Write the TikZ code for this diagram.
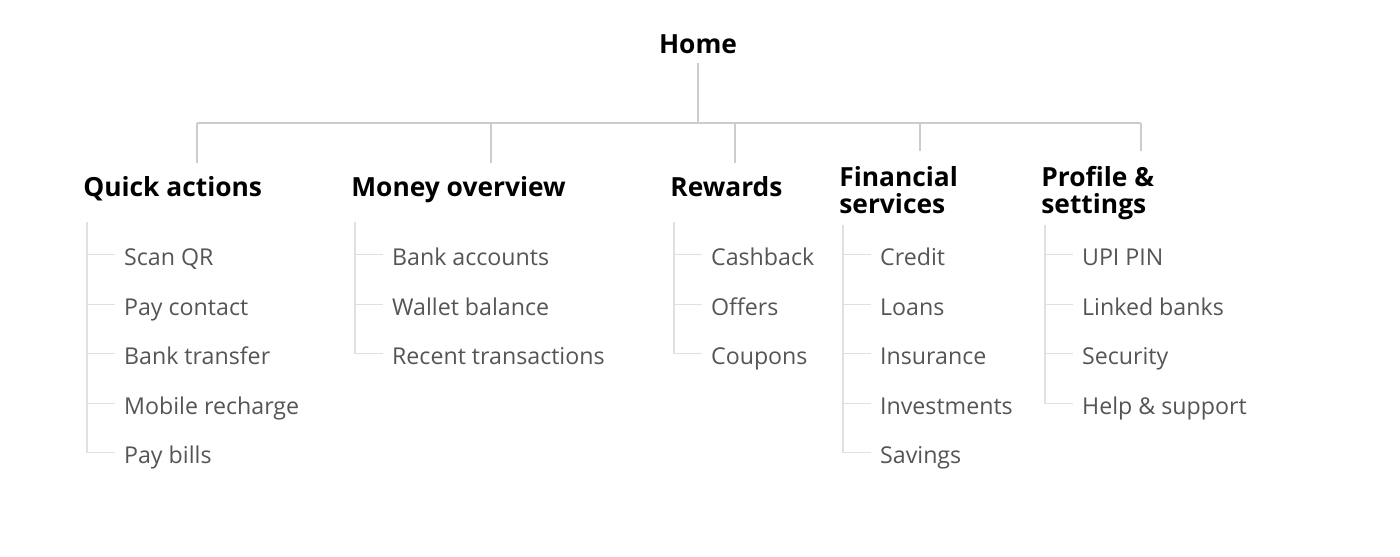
\documentclass[tikz,border=0pt]{standalone}
\usepackage{fontspec}
\setmainfont{Open Sans}
\usetikzlibrary{calc}
\definecolor{linkgray}{HTML}{CCCCCC}
\definecolor{twiggray}{HTML}{E0E0E0}
\definecolor{itemgray}{HTML}{555555}
\tikzset{
	head/.style={anchor=base west, inner sep=0pt, align=left, text=black, font=\fontsize{15}{15.6}\selectfont\bfseries},
	item/.style={anchor=base west, inner xsep=5pt, inner ysep=0pt, text height=12pt, text depth=0pt, text=itemgray, font=\fontsize{13.2}{15}\selectfont},
	link/.style={line width=0.6pt, color=linkgray},
	twig/.style={line width=0.6pt, color=twiggray}
}

\begin{document}
\begin{tikzpicture}[x=0.02cm, y=-0.02cm]
		%%%%% START %%%%%
		\useasboundingbox (0, 0) rectangle (1400, 556);
		
		\node[head, anchor=base, inner ysep=5.7pt, text depth=0pt] (home) at (698, 53) {Home};
		\coordinate (bar) at (698, 123);
		\draw[link] (home.south) -- (bar);
		
		\coordinate (qdrop) at (197, 163);
		\coordinate (mdrop) at (491, 163);
		\coordinate (rdrop) at (735, 163);
		\coordinate (fdrop) at (920, 151);
		\coordinate (pdrop) at (1141, 151);
		\draw[link] (qdrop |- bar) -- (pdrop |- bar);
		\draw[link] (qdrop |- bar) -- (qdrop);
		\draw[link] (mdrop |- bar) -- (mdrop);
		\draw[link] (rdrop |- bar) -- (rdrop);
		\draw[link] (fdrop |- bar) -- (fdrop);
		\draw[link] (pdrop |- bar) -- (pdrop);
		
		\node[head] (quick) at (83, 196) {Quick actions};
		\node[head] (money) at (351, 196) {Money overview};
		\node[head] (rewards) at (670, 196) {Rewards};
		\node[head] (finance) at (839, 213.5) {Financial\\services};
		\node[head] (profile) at (1041, 213.5) {Profile \&\\settings};
		
		% quick actions
		\coordinate (qtop) at (87, 222);
		\node[item] (scan) at (115, 265.5) {Scan QR};
		\node[item] (paycontact) at (115, 315) {Pay contact};
		\node[item] (transfer) at (115, 364.5) {Bank transfer};
		\node[item] (recharge) at (115, 414) {Mobile recharge};
		\node[item] (bills) at (115, 463.5) {Pay bills};
		\draw[twig] (qtop) -- (qtop |- bills.west) -- (bills.west);
		\draw[twig] (qtop |- scan.west) -- (scan.west);
		\draw[twig] (qtop |- paycontact.west) -- (paycontact.west);
		\draw[twig] (qtop |- transfer.west) -- (transfer.west);
		\draw[twig] (qtop |- recharge.west) -- (recharge.west);
		
		% money overview
		\coordinate (mtop) at (355, 222);
		\node[item] (accounts) at (383, 265.5) {Bank accounts};
		\node[item] (wallet) at (383, 315) {Wallet balance};
		\node[item] (recent) at (383, 364.5) {Recent transactions};
		\draw[twig] (mtop) -- (mtop |- recent.west) -- (recent.west);
		\draw[twig] (mtop |- accounts.west) -- (accounts.west);
		\draw[twig] (mtop |- wallet.west) -- (wallet.west);
		
		% rewards
		\coordinate (rtop) at (674, 222);
		\node[item] (cashback) at (702, 265.5) {Cashback};
		\node[item] (offers) at (702, 315) {Offers};
		\node[item] (coupons) at (702, 364.5) {Coupons};
		\draw[twig] (rtop) -- (rtop |- coupons.west) -- (coupons.west);
		\draw[twig] (rtop |- cashback.west) -- (cashback.west);
		\draw[twig] (rtop |- offers.west) -- (offers.west);
		
		% financial services
		\coordinate (ftop) at (843, 225);
		\node[item] (credit) at (871, 265.5) {Credit};
		\node[item] (loans) at (871, 315) {Loans};
		\node[item] (insurance) at (871, 364.5) {Insurance};
		\node[item] (invest) at (871, 414) {Investments};
		\node[item] (savings) at (871, 463.5) {Savings};
		\draw[twig] (ftop) -- (ftop |- savings.west) -- (savings.west);
		\draw[twig] (ftop |- credit.west) -- (credit.west);
		\draw[twig] (ftop |- loans.west) -- (loans.west);
		\draw[twig] (ftop |- insurance.west) -- (insurance.west);
		\draw[twig] (ftop |- invest.west) -- (invest.west);
		
		% profile & settings
		\coordinate (ptop) at (1045, 225);
		\node[item] (upi) at (1073, 265.5) {UPI PIN};
		\node[item] (linked) at (1073, 315) {Linked banks};
		\node[item] (security) at (1073, 364.5) {Security};
		\node[item] (help) at (1073, 414) {Help \& support};
		\draw[twig] (ptop) -- (ptop |- help.west) -- (help.west);
		\draw[twig] (ptop |- upi.west) -- (upi.west);
		\draw[twig] (ptop |- linked.west) -- (linked.west);
		\draw[twig] (ptop |- security.west) -- (security.west);
		
		%%%%% END %%%%%
	\end{tikzpicture}
\end{document}
